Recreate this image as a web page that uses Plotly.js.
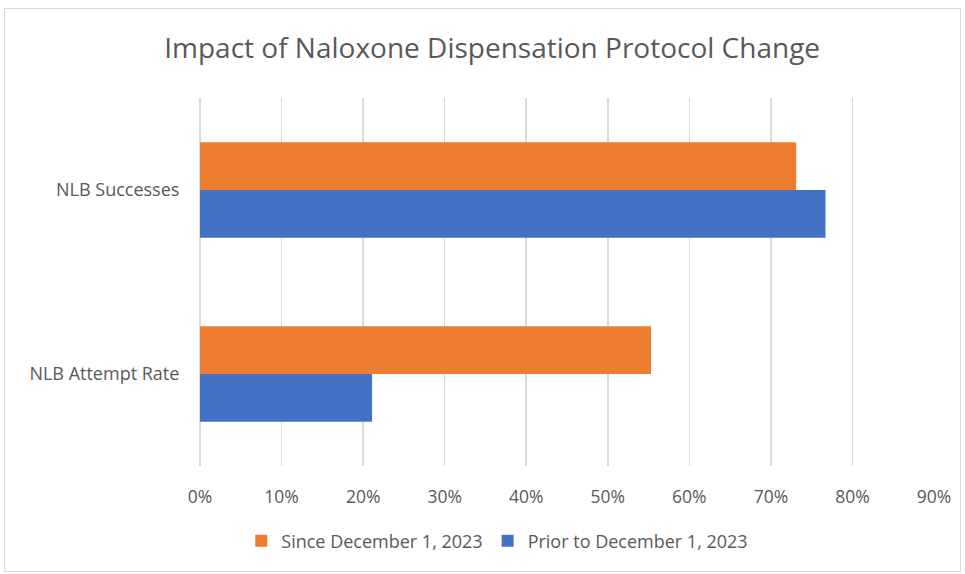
<!DOCTYPE html>
<html>
<head>
<meta charset="utf-8">
<script src="https://cdn.plot.ly/plotly-3.0.1.min.js"></script>
<style>
html,body{margin:0;padding:0;background:#fff;}
#wrap{position:relative;width:965px;height:574px;}
#frame{position:absolute;left:4px;top:8px;width:955px;height:562px;border:1px solid #d9d9d9;pointer-events:none;}
#chart{position:absolute;left:0;top:0;width:965px;height:574px;}
</style>
</head>
<body>
<div id="wrap"><div id="chart"></div><div id="frame"></div></div>
<script>
const categories = ["NLB Attempt Rate", "NLB Successes"];
const priorValues = [0.211, 0.767];
const sinceValues = [0.553, 0.731];
const tickVals = [0, 0.1, 0.2, 0.3, 0.4, 0.5, 0.6, 0.7, 0.8, 0.9];
const tickText = ["0%", "10%", "20%", "30%", "40%", "50%", "60%", "70%", "80%", "90%"];
const seriesNames = ["Prior to December 1, 2023", "Since December 1, 2023"];

const font = "Open Sans, Noto Sans, sans-serif";
const data = [
  {type: "bar", orientation: "h", name: seriesNames[0], y: categories, x: priorValues,
   marker: {color: "#4472C4"}, hoverinfo: "x+name"},
  {type: "bar", orientation: "h", name: seriesNames[1], y: categories, x: sinceValues,
   marker: {color: "#ED7D31"}, hoverinfo: "x+name"}
];
const layout = {
  width: 965, height: 574,
  margin: {l: 200, r: 31, t: 98, b: 108},
  paper_bgcolor: "rgba(0,0,0,0)", plot_bgcolor: "#fff",
  title: {text: "Impact of Naloxone Dispensation Protocol Change",
          font: {family: font, size: 28, color: "#595959"},
          x: 0.51, xanchor: "center", y: 0.916, yanchor: "middle"},
  barmode: "group", bargap: 0.48, bargroupgap: 0,
  xaxis: {range: [0, 0.9], tickvals: tickVals, ticktext: tickText,
          showgrid: true, gridcolor: "#d9d9d9", gridwidth: 1.5,
          zeroline: true, zerolinecolor: "#d9d9d9", zerolinewidth: 1.5,
          showline: false, ticks: "outside", ticklen: 15, tickcolor: "rgba(0,0,0,0)",
          tickfont: {family: font, size: 17.5, color: "#595959"}, fixedrange: true},
  yaxis: {type: "category", categoryorder: "array", categoryarray: categories,
          range: [-0.5, 1.5], showgrid: false, zeroline: false, showline: false,
          ticks: "outside", ticklen: 16, tickcolor: "rgba(0,0,0,0)",
          tickfont: {family: font, size: 18, color: "#595959"}, fixedrange: true},
  showlegend: true,
  legend: {orientation: "h", traceorder: "reversed", x: 0.405, xanchor: "center",
           y: -0.204, yanchor: "middle",
           font: {family: font, size: 18, color: "#595959"},
           itemwidth: 30}
};
Plotly.newPlot("chart", data, layout, {displayModeBar: false, staticPlot: true});
</script>
</body>
</html>
